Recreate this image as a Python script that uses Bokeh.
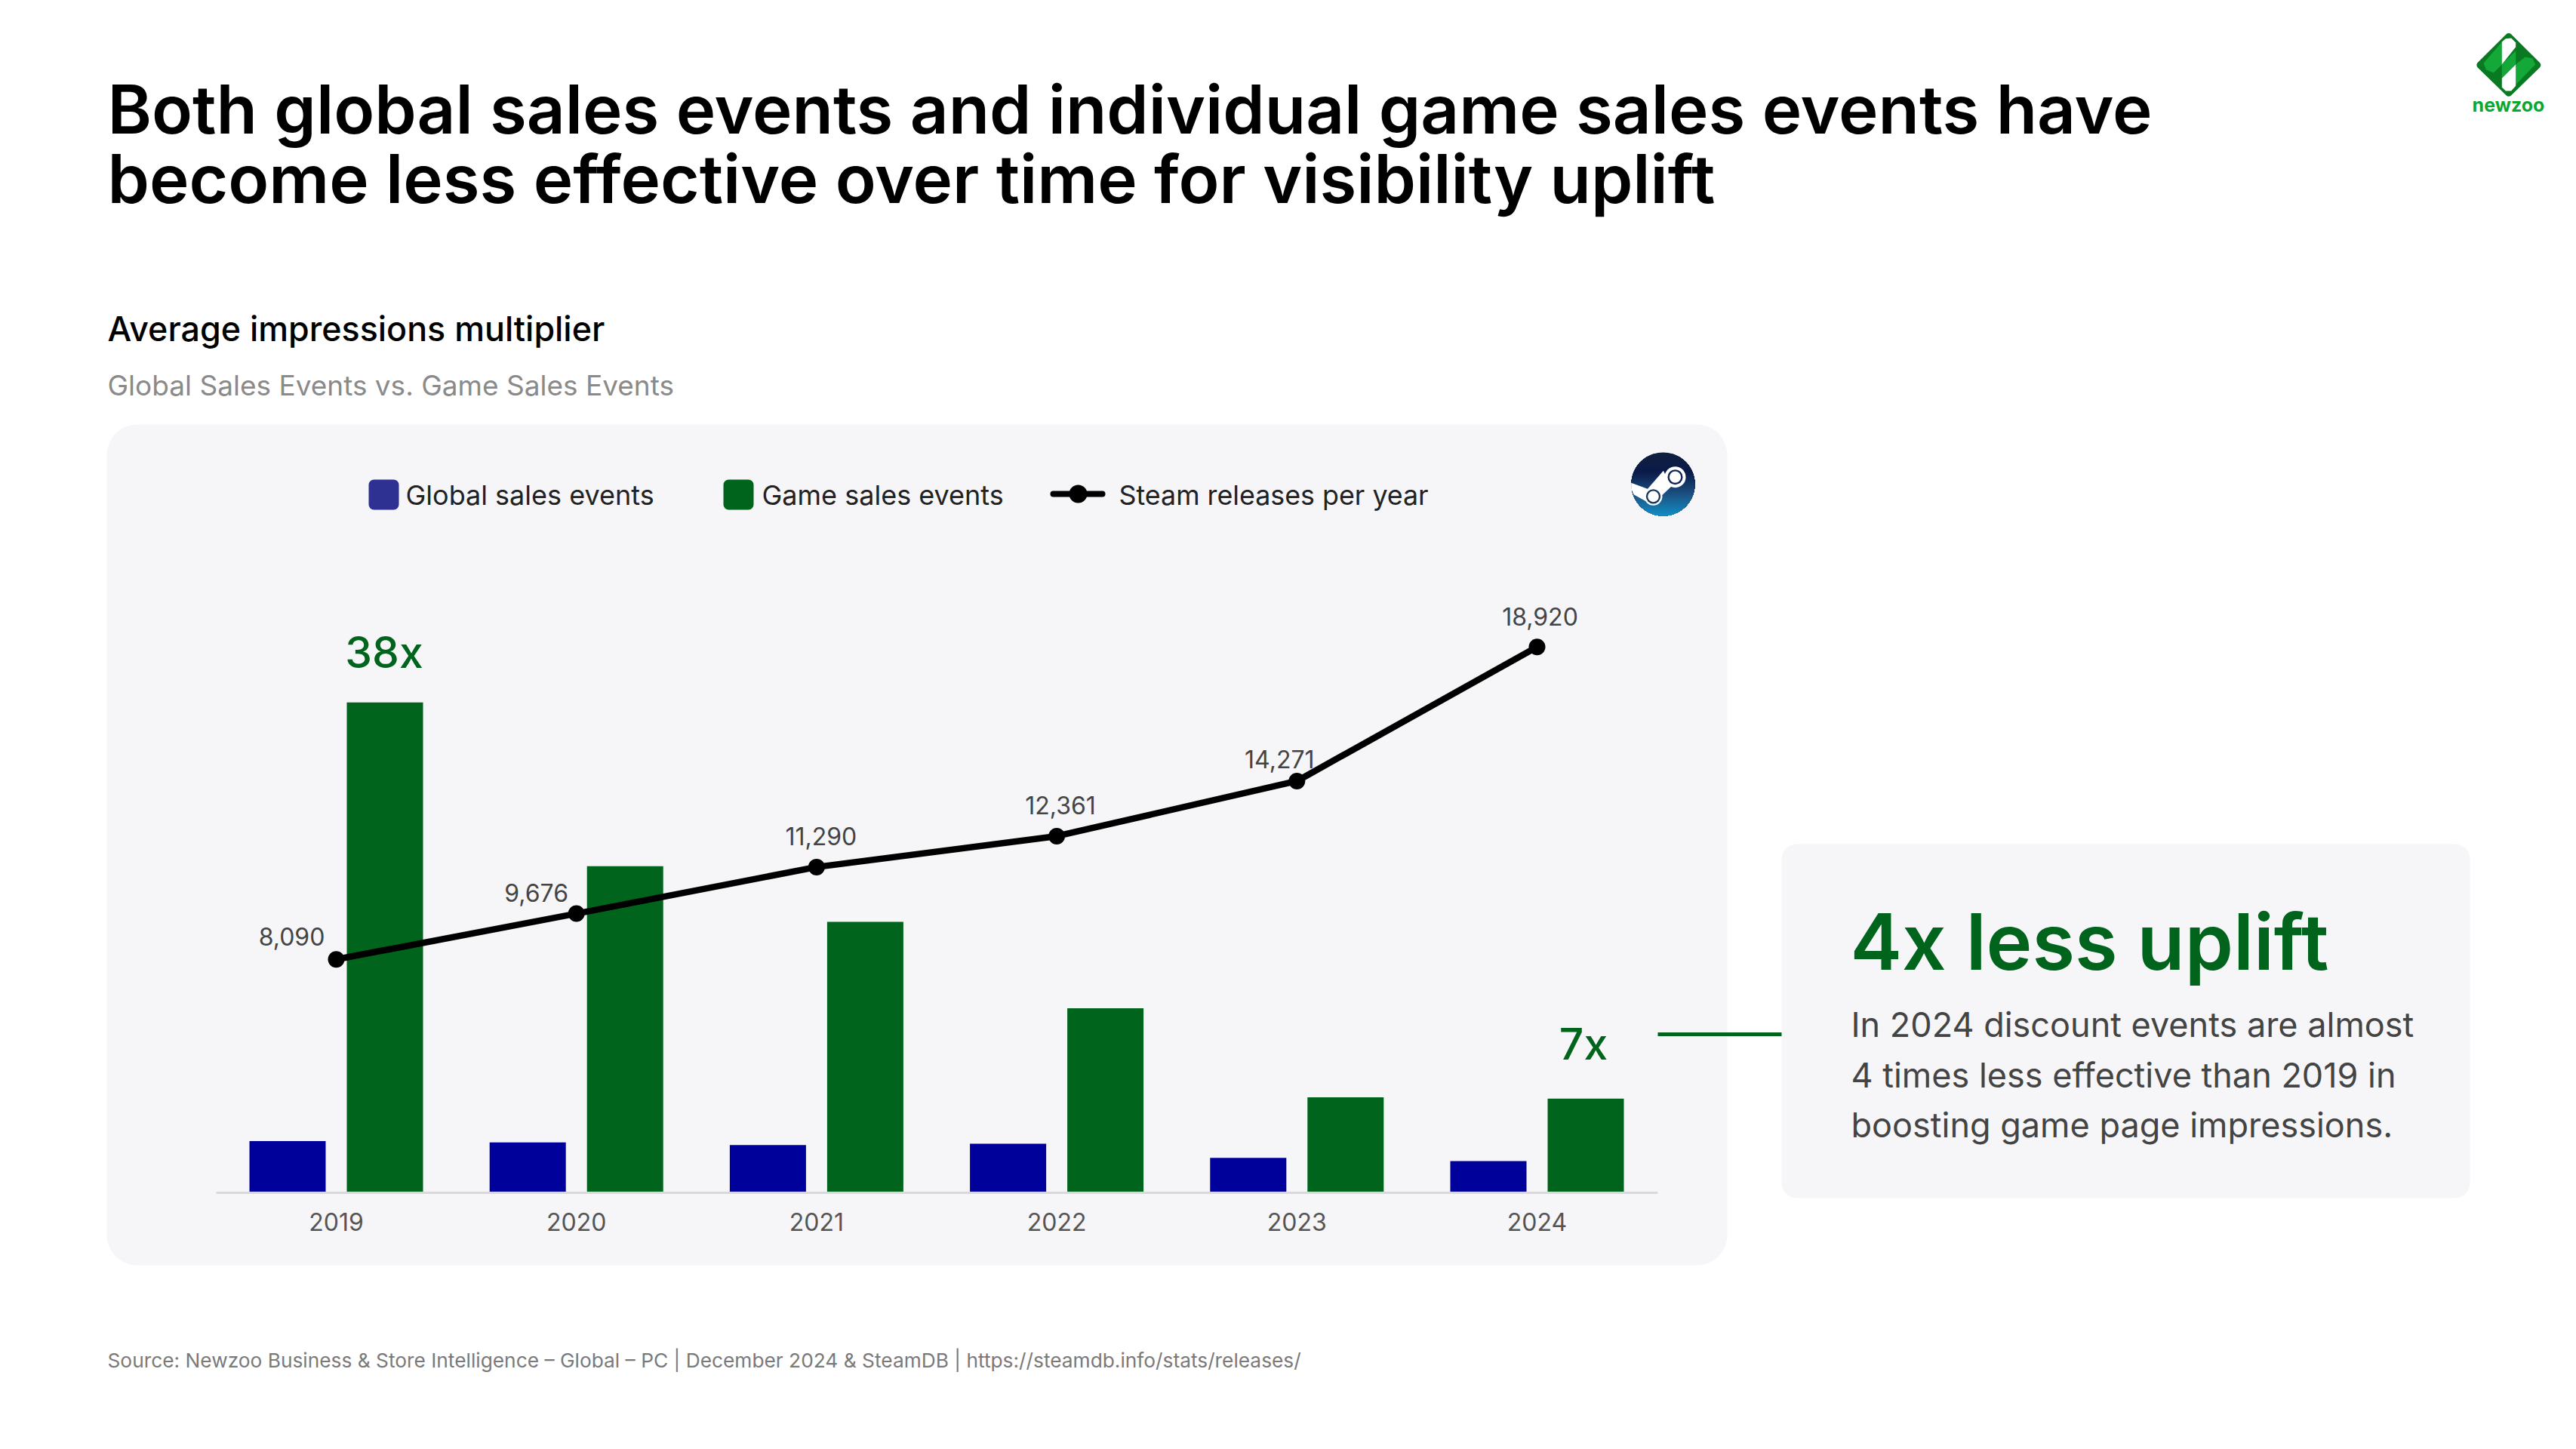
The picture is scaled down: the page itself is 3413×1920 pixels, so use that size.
import numpy as np
from bokeh.core.properties import value
from bokeh.embed import file_html
from bokeh.models import BoxAnnotation, FixedTicker, LinearAxis, Range1d
from bokeh.plotting import figure
from bokeh.resources import INLINE

# ---- chart values -------------------------------------------------------
years = [2019, 2020, 2021, 2022, 2023, 2024]
global_sales = [4.0, 3.9, 3.7, 3.8, 2.7, 2.45]
game_sales = [38.0, 25.3, 21.0, 14.3, 7.4, 7.3]
steam_releases = [8090, 9676, 11290, 12361, 14271, 18920]
steam_labels = ["8,090", "9,676", "11,290", "12,361", "14,271", "18,920"]

TITLE = ["Both global sales events and individual game sales events have",
         "become less effective over time for visibility uplift"]
BODY = ["In 2024 discount events are almost",
        "4 times less effective than 2019 in",
        "boosting game page impressions."]
SOURCE = ("Source: Newzoo Business & Store Intelligence \u2013 Global \u2013 PC | "
          "December 2024 & SteamDB | https://steamdb.info/stats/releases/")

# ---- page geometry ------------------------------------------------------
W, H = 3405, 1912
LEFT, TOP = 0, 0
BASE = 1580.0                 # page y of the zero line
X0, STEP = 445.0, 318.2       # page x of 2019, page px per year
PX_PER_X = 17.1               # page px per multiplier unit
PX_PER_REL = 0.03823          # page px per release
BAR_W = 101 / STEP
BAR_OFF = 64.5 / STEP
K = 0.35                      # baseline correction, fraction of font size

FONT = "Inter"
MEDIUM = "Inter Medium"
SEMI = "Inter SemiBold"
GREEN = "#01641c"
BLUE = "#00009a"
PANEL = "#f6f6f9"

p = figure(width=W, height=H, output_backend="svg", toolbar_location=None,
           x_axis_type=None, y_axis_type=None, min_border=0,
           x_range=Range1d(2019 + (LEFT - X0) / STEP, 2019 + (LEFT + W - X0) / STEP),
           y_range=Range1d((BASE - TOP - H) / PX_PER_X, (BASE - TOP) / PX_PER_X),
           background_fill_color="white", border_fill_color="white")
p.outline_line_color = None
p.grid.visible = False
p.extra_y_ranges["releases"] = Range1d((BASE - TOP - H) / PX_PER_REL, (BASE - TOP) / PX_PER_REL)
p.extra_x_ranges["px"] = Range1d(LEFT, LEFT + W)
p.extra_y_ranges["px"] = Range1d(TOP + H, TOP)
PX = dict(x_range_name="px", y_range_name="px")


def text(x, y, s, size, color="#222222", style="normal", align="left", font=FONT):
    p.text([x], [y - K * size], text=[s], text_font=value(font), text_font_size=f"{size}px", text_color=color,
           text_font_style=style, text_align=align, text_baseline="alphabetic", **PX)


def box(l, r, t, b, color, radius, level="underlay"):
    p.add_layout(BoxAnnotation(left=l, right=r, top=t, bottom=b, fill_color=color, fill_alpha=1,
                               line_color=None, border_radius=radius, level=level, **PX))


# ---- panels ------------------------------------------------------------
box(141, 2288, 562, 1676, PANEL, 40)
box(2360, 3272, 1118, 1587, PANEL, 20)

# ---- headings ----------------------------------------------------------
text(142, 175, TITLE[0], 88.8, "#000000", font=SEMI)
text(142, 267, TITLE[1], 88.8, "#000000", font=SEMI)
text(142, 451, "Average impressions multiplier", 44.8, "#000000", font=MEDIUM)
text(142, 523, "Global Sales Events vs. Game Sales Events", 37, "#8a8a8a")

# ---- bars and line ------------------------------------------------------
yrs = np.array(years, dtype=float)
p.vbar(x=yrs - BAR_OFF, top=global_sales, width=BAR_W, bottom=0, fill_color=BLUE, line_color=None)
p.vbar(x=yrs + BAR_OFF, top=game_sales, width=BAR_W, bottom=0, fill_color=GREEN, line_color=None)
p.line(years, steam_releases, line_color="#000000", line_width=8.5, y_range_name="releases")
p.scatter(years, steam_releases, size=22, fill_color="#000000", line_color=None, y_range_name="releases")
p.text(years, steam_releases, text=steam_labels, y_range_name="releases",
       x_offset=[-59, -53, 6, 5, -23, 4],
       y_offset=[d - K * 32 for d in [-19, -16, -30, -30, -18, -29]],
       text_font=value(FONT), text_font_size="32px", text_color="#444444",
       text_align="center", text_baseline="alphabetic")

# value call-outs on the first and last green bars
p.text([years[0] + BAR_OFF - 1 / STEP], [game_sales[0]], text=["38x"], y_offset=[-46 - K * 57],
       text_font=value(MEDIUM), text_font_size="57px", text_color=GREEN, text_align="center",
       text_baseline="alphabetic")
p.text([years[-1] + BAR_OFF - 3 / STEP], [game_sales[-1]], text=["7x"], y_offset=[-52 - K * 57],
       text_font=value(MEDIUM), text_font_size="57px", text_color=GREEN, text_align="center",
       text_baseline="alphabetic")

# ---- axis ---------------------------------------------------------------
ax = LinearAxis(ticker=FixedTicker(ticks=years), fixed_location=0,
                bounds=(years[0] + (286 - X0) / STEP, years[0] + (2196 - X0) / STEP),
                axis_line_color="#d9d9dd", axis_line_width=3,
                major_tick_line_color=None, minor_tick_line_color=None,
                major_label_text_font=FONT, major_label_text_font_size="32px",
                major_label_text_color="#555555", major_label_standoff=20)
p.add_layout(ax, "below")

# ---- legend -------------------------------------------------------------
box(488, 528, 635, 675, "#2e3192", 7)
text(537, 668, "Global sales events", 36)
box(958, 998, 635, 675, GREEN, 7)
text(1009, 668, "Game sales events", 36)
p.line([1395, 1460], [654, 654], line_color="#000000", line_width=8, line_cap="round", **PX)
p.scatter([1428], [654], size=24, fill_color="#000000", line_color=None, **PX)
text(1482, 668, "Steam releases per year", 35.8)

# ---- connector + call-out ----------------------------------------------
p.line([2196, 2360], [1370, 1370], line_color=GREEN, line_width=5, **PX)
text(2451, 1283, "4x less uplift", 103, GREEN, font=SEMI)
for y, s in zip([1373, 1440, 1506], BODY):
    text(2452, y, s, 45, "#444444")

text(142, 1811, SOURCE, 26.3, "#7a7a7a")

# ---- Steam icon ---------------------------------------------------------
cx, cy, r = 2203.0, 641.0, 42.0
stops_t = [0.0, 0.3, 0.6, 1.0]
stops_c = [(16, 32, 63), (11, 27, 74), (27, 74, 122), (20, 144, 200)]
xs, ys, cols = [], [], []
for t in np.linspace(0, 0.985, 40):
    a0 = np.arcsin(np.clip(1 - 2 * t, -1, 1))
    ang = np.linspace(np.pi - a0, 2 * np.pi + a0, 80)
    xs.append(cx + r * np.cos(ang))
    ys.append(cy - r * np.sin(ang))
    c = [int(np.interp(t, stops_t, [s[i] for s in stops_c])) for i in range(3)]
    cols.append("#%02x%02x%02x" % tuple(c))
p.patches(xs, ys, fill_color=cols, line_color=None, **PX)


def z6(pts):
    return [2140 + a / 3 for a, _ in pts], [580 + b / 3 for _, b in pts]


for pts in ([(62, 178), (135, 205), (118, 250), (72, 224), (62, 200)],
            [(190, 130), (222, 192), (175, 236), (125, 205)]):
    a, b = z6(pts)
    p.patch(a, b, fill_color="white", line_color=None, **PX)
for (ax_, ay_), sizes in (((237, 155), [(84, "white"), (60, "#0e2150"), (46, "white")]),
                          ((150, 232), [(72, "white"), (58, "#14385f"), (44, "white")])):
    for s, c in sizes:
        p.scatter([2140 + ax_ / 3], [580 + ay_ / 3], size=s / 3, fill_color=c, line_color=None, **PX)


# ---- Newzoo logo --------------------------------------------------------
def z5(pts):
    return [3260 + a / 3 for a, _ in pts], [20 + b / 3 for _, b in pts]


a, b = z5([(190, 84), (304, 197), (190, 308), (76, 197)])
p.patch(a, b, fill_color="#0a7a22", line_color="#0a7a22", line_width=9, line_join="round", **PX)
for pts, c in (([(90, 190), (163, 105), (163, 195), (130, 228), (100, 215)], "#13a838"),
               ([(163, 105), (178, 92), (200, 90), (218, 108), (218, 125), (163, 195)], "white"),
               ([(163, 195), (218, 140), (218, 195), (163, 250)], "#13a838"),
               ([(218, 195), (255, 165), (285, 170), (296, 195), (218, 275)], "#13a838"),
               ([(163, 250), (218, 195), (218, 280), (200, 300), (178, 300), (163, 285)], "white")):
    a, b = z5(pts)
    p.patch(a, b, fill_color=c, line_color=None, **PX)
text(3323, 147, "newzoo", 25, "#0aa832", "bold", "center")

open("out.html", "w").write(file_html(p, INLINE))
